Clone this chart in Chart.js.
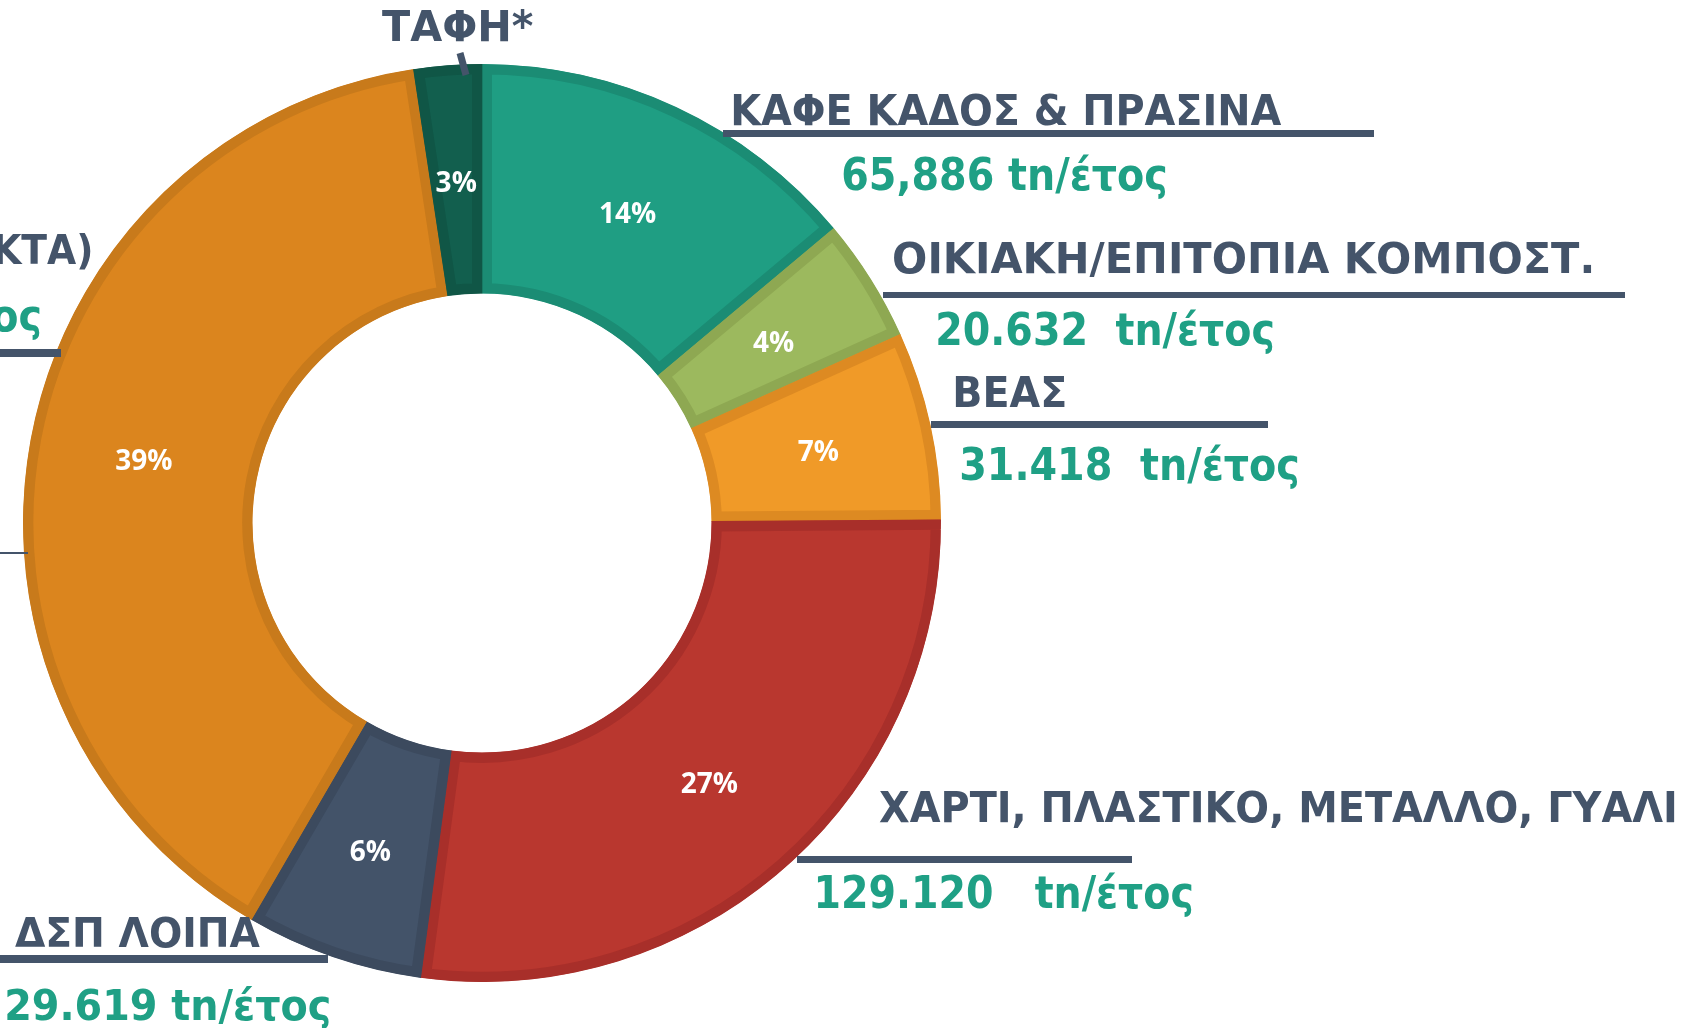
<!DOCTYPE html>
<html>
<head>
<meta charset="utf-8">
<script src="https://cdn.jsdelivr.net/npm/chart.js@4.4.1/dist/chart.umd.min.js"></script>
<style>
html,body{margin:0;padding:0;background:#ffffff;overflow:hidden}
canvas{display:block}
</style>
</head>
<body>
<canvas id="c" width="1706" height="1028"></canvas>
<script>
// ---- data ----
const categories = [
  'ΚΑΦΕ ΚΑΔΟΣ & ΠΡΑΣΙΝΑ',
  'ΟΙΚΙΑΚΗ/ΕΠΙΤΟΠΙΑ ΚΟΜΠΟΣΤ.',
  'ΒΕΑΣ',
  'ΧΑΡΤΙ, ΠΛΑΣΤΙΚΟ, ΜΕΤΑΛΛΟ, ΓΥΑΛΙ',
  'ΔΣΠ ΛΟΙΠΑ',
  'ΜΟΝΑΔΑ ΕΠΕΞΕΡΓΑΣΙΑΣ (ΣΥΜΜΕΙΚΤΑ)',
  'ΤΑΦΗ*'
];
const tonnes = [65886, 20632, 31418, 129120, 29619, 185900, 11300];
const percentLabels = ['14%', '4%', '7%', '27%', '6%', '39%', '3%'];
const valueLabels = [
  '65,886 tn/έτος',
  '20.632  tn/έτος',
  '31.418  tn/έτος',
  '129.120   tn/έτος',
  '29.619 tn/έτος',
  '185.900 tn/έτος',
  ''
];

// ---- styles ----
const fillColors   = ['#1f9e83', '#9cb95e', '#f09a28', '#b9372f', '#435369', '#db851e', '#125f4e'];
const borderColors = ['#1b8c74', '#8ea852', '#dd8a22', '#a82f2a', '#3c4a5e', '#c87a1b', '#105646'];
const slate = '#44546a';
const teal = '#1fa085';

// annotation layout: ink box [x0, x1, baseline, capHeight]; align right = cut at left edge
const nameBoxes = [
  {x0: 733, x1: 1282, y: 125, cap: 31},
  {x0: 894, x1: 1591, y: 273, cap: 31},
  {x0: 955, x1: 1065, y: 407, cap: 31},
  {x0: 879, x1: 1675, y: 822, cap: 31},
  {x0: 15,  x1: 260,  y: 947, cap: 29},
  {x1: 91,  y: 264, cap: 30, align: 'right', sx: 0.92},
  {x0: 382, x1: 533,  y: 41,  cap: 31}
];
const valueBoxes = [
  {x0: 843, x1: 1166, y: 190, cap: 32},
  {x0: 938, x1: 1273, y: 345, cap: 32},
  {x0: 961, x1: 1298, y: 480, cap: 32},
  {x0: 817, x1: 1192, y: 908, cap: 32},
  {x0: 7,   x1: 329,  y: 1020, cap: 31},
  {x1: 40,  y: 331, cap: 32, align: 'right', sx: 0.9},
  null
];
const underlines = [
  [723, 1374, 130, 137],
  [883, 1625, 292, 298],
  [931, 1268, 421, 428],
  [797, 1132, 856, 863],
  [0, 328, 955, 963],
  [0, 61, 349, 357]
];
const leaderLines = [
  {x0: 460, y0: 53, x1: 466, y1: 75, w: 7},
  {x0: 0, y0: 553, x1: 28, y1: 553, w: 2}
];
const pctFont = 'bold 28px "Open Sans"';
const pctDy = 4;

function drawFitted(ctx, text, box, color) {
  if (!box || !text) return;
  const size = Math.round(box.cap / 0.729);
  ctx.save();
  ctx.font = 'bold ' + size + 'px "DejaVu Sans"';
  ctx.fillStyle = color;
  ctx.textBaseline = 'alphabetic';
  ctx.textAlign = 'left';
  const m = ctx.measureText(text);
  const inkW = m.actualBoundingBoxLeft + m.actualBoundingBoxRight;
  if (box.align === 'right') {
    const sx = box.sx || 1;
    ctx.translate(box.x1, box.y);
    ctx.scale(sx, 1);
    ctx.fillText(text, -m.actualBoundingBoxRight, 0);
  } else {
    const sx = (box.x1 - box.x0) / inkW;
    ctx.translate(box.x0, box.y);
    ctx.scale(sx, 1);
    ctx.fillText(text, m.actualBoundingBoxLeft, 0);
  }
  ctx.restore();
}

const annotationPlugin = {
  id: 'annotations',
  afterDatasetsDraw(chart) {
    const ctx = chart.ctx;
    const meta = chart.getDatasetMeta(0);
    // percentage labels at arc centres
    ctx.save();
    ctx.font = pctFont;
    ctx.fillStyle = '#ffffff';
    ctx.textAlign = 'center';
    ctx.textBaseline = 'middle';
    meta.data.forEach((arc, i) => {
      const p = arc.getCenterPoint();
      ctx.fillText(percentLabels[i], p.x, p.y + pctDy);
    });
    ctx.restore();

    // underlines
    ctx.save();
    ctx.fillStyle = slate;
    underlines.forEach(u => ctx.fillRect(u[0], u[2], u[1] - u[0], u[3] - u[2]));
    ctx.strokeStyle = slate;
    leaderLines.forEach(l => {
      ctx.lineWidth = l.w;
      ctx.beginPath();
      ctx.moveTo(l.x0, l.y0);
      ctx.lineTo(l.x1, l.y1);
      ctx.stroke();
    });
    ctx.restore();

    // category names and values
    categories.forEach((name, i) => {
      drawFitted(ctx, name, nameBoxes[i], slate);
      drawFitted(ctx, valueLabels[i], valueBoxes[i], teal);
    });
  }
};

new Chart(document.getElementById('c').getContext('2d'), {
  type: 'doughnut',
  data: {
    labels: categories,
    datasets: [{
      data: tonnes,
      backgroundColor: fillColors,
      borderColor: borderColors,
      borderWidth: 10,
      borderAlign: 'inner',
      borderJoinStyle: 'miter',
      hoverOffset: 0,
      offset: 0
    }]
  },
  options: {
    responsive: false,
    animation: false,
    events: [],
    cutout: '50%',
    layout: {padding: {left: 23, top: 64, right: 765, bottom: 46}},
    plugins: {
      legend: {display: false},
      tooltip: {enabled: false}
    }
  },
  plugins: [annotationPlugin]
});
</script>
</body>
</html>
